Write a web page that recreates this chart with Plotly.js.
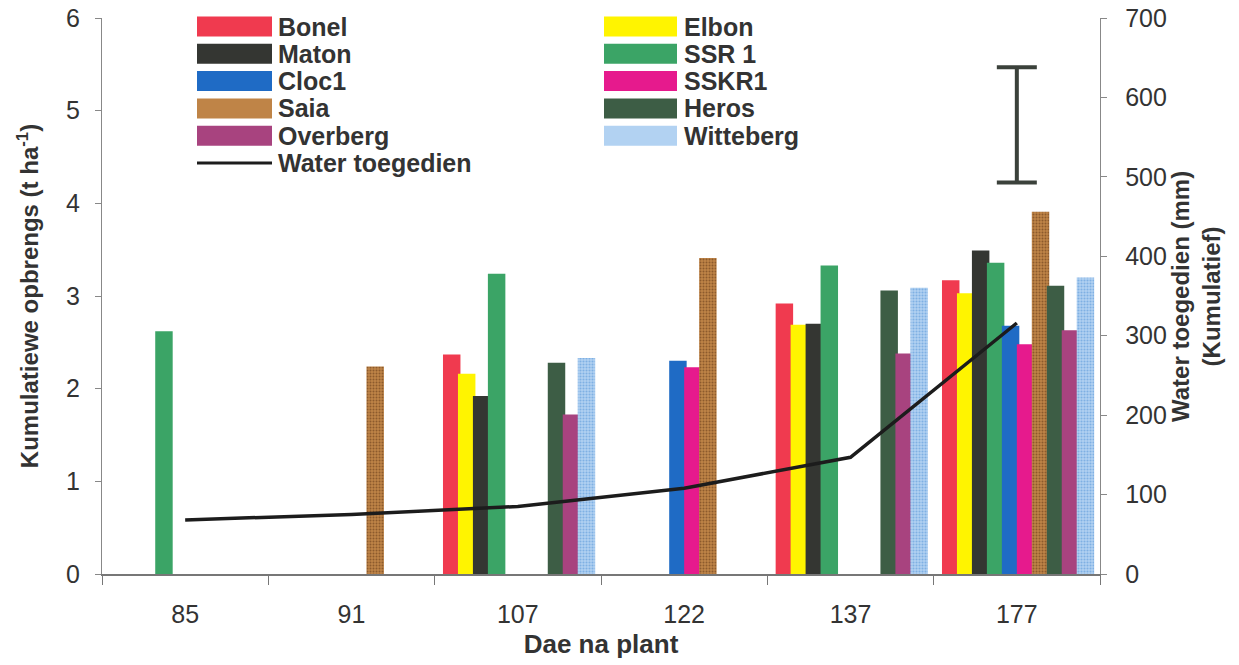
<!DOCTYPE html>
<html>
<head>
<meta charset="utf-8">
<script src="https://cdn.plot.ly/plotly-3.0.1.min.js"></script>
<style>html,body{margin:0;padding:0;background:#fff;}#chart{width:1239px;height:665px;}</style>
</head>
<body>
<div id="chart"></div>
<script>
// ---- data ----
const categories = ['85', '91', '107', '122', '137', '177'];
const seriesNames = ['Bonel', 'Elbon', 'Maton', 'SSR 1', 'Cloc1', 'SSKR1', 'Saia', 'Heros', 'Overberg', 'Witteberg'];
const bonel     = [null, null, 2.37, null, 2.92, 3.17];
const elbon     = [null, null, 2.16, null, 2.69, 3.03];
const maton     = [null, null, 1.92, null, 2.70, 3.49];
const ssr1      = [2.62, null, 3.24, null, 3.33, 3.36];
const cloc1     = [null, null, null, 2.30, null, 2.68];
const sskr1     = [null, null, null, 2.23, null, 2.48];
const saia      = [null, 2.24, null, 3.41, null, 3.91];
const heros     = [null, null, 2.28, null, 3.06, 3.11];
const overberg  = [null, null, 1.72, null, 2.38, 2.63];
const witteberg = [null, null, 2.33, null, 3.09, 3.20];
const waterName = 'Water toegedien';
const water     = [68, 75, 85, 108, 147, 316];
const lsdCategory = ['177'];
const lsdLow  = 493;
const lsdHigh = 638;

// ---- styles ----
const seriesValues = [bonel, elbon, maton, ssr1, cloc1, sskr1, saia, heros, overberg, witteberg];
const colors = ['#f03a4f', '#fff400', '#343632', '#3ba466', '#1f6bc5', '#e61a8d', '#b67a3f', '#3d5d45', '#a8437f', '#a6caee'];
const patterns = {
  6: {shape: '.', fgcolor: '#8c5a2c', bgcolor: '#bf8447', size: 3, solidity: 0.35},
  9: {shape: '.', fgcolor: '#7fb0e3', bgcolor: '#b2d2f2', size: 3, solidity: 0.4}
};
const FONT = 'Liberation Sans, Arial, sans-serif';
const TXT = '#333333';

const traces = [];
seriesValues.forEach((vals, i) => {
  const marker = {color: colors[i], line: {width: 0}};
  if (patterns[i]) marker.pattern = patterns[i];
  traces.push({
    type: 'bar', name: seriesNames[i], x: categories, y: vals,
    width: 0.105, offset: -0.45 + i * 0.09,
    marker: marker, showlegend: false, hoverinfo: 'name+y'
  });
});
traces.push({
  type: 'scatter', mode: 'lines', name: waterName, x: categories, y: water,
  yaxis: 'y2', line: {color: '#1c1c1c', width: 3.5}, showlegend: false
});
const lsdCenter = (lsdLow + lsdHigh) / 2;
traces.push({
  type: 'scatter', mode: 'markers', name: 'LSD', x: lsdCategory, y: [lsdCenter], yaxis: 'y2',
  marker: {size: 1, opacity: 0}, showlegend: false, hoverinfo: 'skip',
  error_y: {type: 'data', symmetric: true, array: [lsdHigh - lsdCenter], visible: true,
            thickness: 4, width: 20, color: '#3b413b'}
});

// ---- custom legend (large swatches) ----
const L = 102, W = 998, B = 574, H = 556;
const px = v => (v - L) / W;
const py = v => (B - v) / H;
const shapes = [];
const annotations = [];
const colX = [[197, 272, 276], [604, 677, 682]];
const rowY = r => 26.5 + 27.3 * r;
seriesNames.forEach((n, i) => {
  const c = colX[i % 2], y = rowY(Math.floor(i / 2));
  const fill = patterns[i] ? patterns[i].bgcolor : colors[i];
  shapes.push({type: 'rect', xref: 'paper', yref: 'paper', x0: px(c[0]), x1: px(c[1]),
    y0: py(y + 10), y1: py(y - 10), fillcolor: fill, line: {width: 0}, layer: 'above'});
  annotations.push({xref: 'paper', yref: 'paper', x: px(c[2]), y: py(y), xanchor: 'left', yanchor: 'middle',
    text: '<b>' + n + '</b>', showarrow: false, font: {family: FONT, size: 25, color: TXT}});
});
{
  const c = colX[0], y = rowY(5);
  shapes.push({type: 'line', xref: 'paper', yref: 'paper', x0: px(c[0]), x1: px(c[1]),
    y0: py(y), y1: py(y), line: {color: '#1c1c1c', width: 3}});
  annotations.push({xref: 'paper', yref: 'paper', x: px(c[2]), y: py(y), xanchor: 'left', yanchor: 'middle',
    text: '<b>' + waterName + '</b>', showarrow: false, font: {family: FONT, size: 25, color: TXT}});
}
// right axis title
annotations.push({xref: 'paper', yref: 'paper', x: px(1196), y: py(297), xanchor: 'center', yanchor: 'middle',
  textangle: -90, showarrow: false, text: '<b>Water toegedien (mm)<br>(Kumulatief)</b>',
  font: {family: FONT, size: 24, color: TXT}});

const layout = {
  width: 1239, height: 665,
  margin: {l: 102, r: 139, t: 18, b: 91},
  paper_bgcolor: '#ffffff', plot_bgcolor: '#ffffff',
  font: {family: FONT, color: TXT, size: 24},
  barmode: 'overlay',
  showlegend: false,
  xaxis: {
    type: 'category', categoryorder: 'array', categoryarray: categories,
    ticks: 'outside', tickson: 'boundaries', ticklen: 9, tickcolor: '#777', tickwidth: 1,
    showline: true, linecolor: '#777', linewidth: 1.5, showgrid: false, zeroline: false,
    tickfont: {size: 25, color: TXT}, ticklabelstandoff: 17,
    title: {text: '<b>Dae na plant</b>', font: {size: 26, color: TXT}, standoff: 8}
  },
  yaxis: {
    range: [0, 6], dtick: 1, ticks: 'outside', ticklen: 6, tickcolor: '#888',
    showline: true, linecolor: '#888', linewidth: 1.2, showgrid: false, zeroline: false,
    tickfont: {size: 25, color: TXT}, ticklabelstandoff: 10,
    title: {text: '<b>Kumulatiewe opbrengs (t ha<sup>-1</sup>)</b>', font: {size: 24, color: TXT}, standoff: 20}
  },
  yaxis2: {
    overlaying: 'y', side: 'right', range: [0, 700], dtick: 100,
    ticks: 'outside', ticklen: 6, tickcolor: '#888',
    showline: true, linecolor: '#888', linewidth: 1.2, showgrid: false, zeroline: false,
    tickfont: {size: 25, color: TXT}, ticklabelstandoff: 13
  },
  shapes: shapes,
  annotations: annotations
};

Plotly.newPlot('chart', traces, layout, {displayModeBar: false, staticPlot: true});
</script>
</body>
</html>
